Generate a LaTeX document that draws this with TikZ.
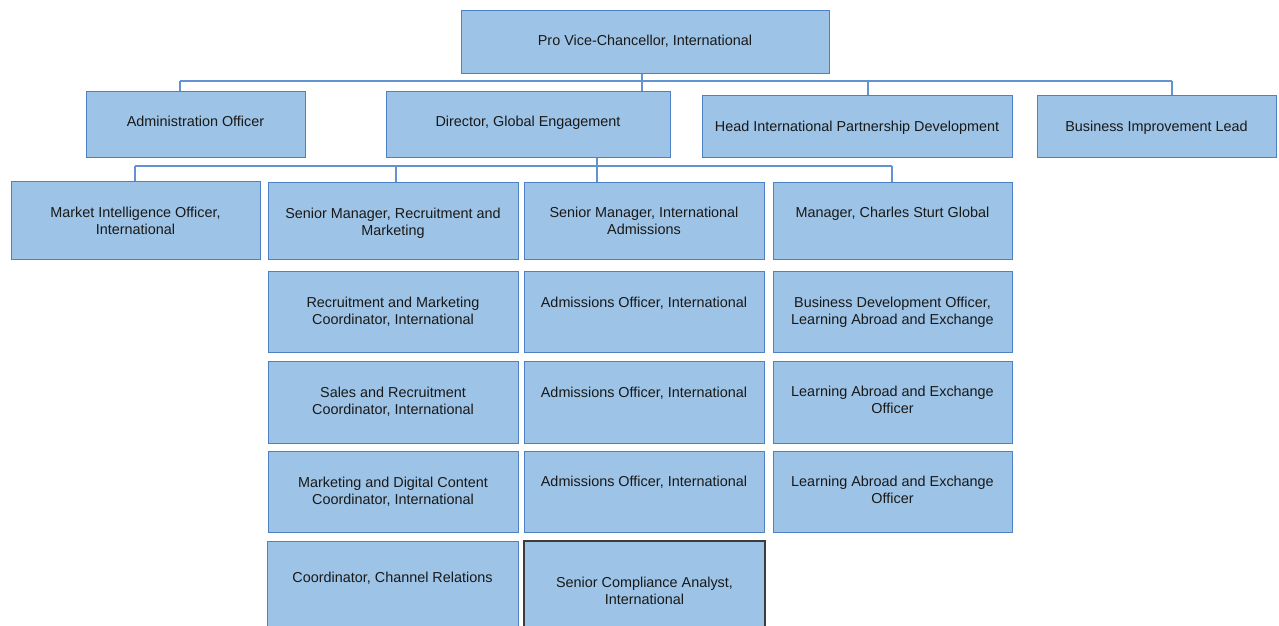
\documentclass[tikz,border=0pt]{standalone}
\usepackage{fontspec}
\setmainfont{Liberation Sans}
\definecolor{boxfill}{RGB}{157,195,230}
\definecolor{boxedge}{RGB}{78,128,196}
\definecolor{wire}{RGB}{100,145,208}
\definecolor{darkedge}{RGB}{60,60,60}
\definecolor{ink}{RGB}{25,25,25}
\begin{document}
\begin{tikzpicture}[x=1pt,y=-1pt,
  txtfont/.style={font=\fontsize{14.4}{17}\selectfont, text=ink},
  box/.style={draw=boxedge, fill=boxfill, line width=1pt, inner sep=0pt, txtfont},
  lbl/.style={txtfont, align=center, inner sep=0pt, anchor=north},
  conn/.style={draw=wire, line width=1.2pt}]
\clip (0,0) rectangle (1279,625);
\fill[white] (0,0) rectangle (1279,625);

% ---- top tier ----
\node[box, minimum width=368, minimum height=63] (pvc) at (645,41.5) {Pro Vice-Chancellor, International};
\node[box, minimum width=219, minimum height=66, text depth=6pt] (admin) at (195.5,124) {Administration Officer};
\node[box, minimum width=284, minimum height=66, text depth=6pt] (dir) at (528,124) {Director, Global Engagement};
\node[box, minimum width=310, minimum height=62, text height=13pt] (hipd) at (857,126) {Head International Partnership Development};
\node[box, minimum width=239, minimum height=62, text height=13pt] (bil) at (1156.5,126) {Business Improvement Lead};

% ---- second tier ----
\node[box, minimum width=249, minimum height=78] (mio) at (135.5,220) {};
\node[box, minimum width=250, minimum height=77] (smrm) at (393,220.5) {};
\node[box, minimum width=240, minimum height=77] (smia) at (644,220.5) {};
\node[box, minimum width=239, minimum height=77] (mcsg) at (892.5,220.5) {};

% ---- staff rows ----
\node[box, minimum width=250, minimum height=81] (rmc) at (393,311.5) {};
\node[box, minimum width=240, minimum height=81] (ao1) at (644,311.5) {};
\node[box, minimum width=239, minimum height=81] (bdo) at (892.5,311.5) {};

\node[box, minimum width=250, minimum height=82] (src) at (393,402) {};
\node[box, minimum width=240, minimum height=82] (ao2) at (644,402) {};
\node[box, minimum width=239, minimum height=82] (lae1) at (892.5,402) {};

\node[box, minimum width=250, minimum height=81] (mdc) at (393,491.5) {};
\node[box, minimum width=240, minimum height=81] (ao3) at (644,491.5) {};
\node[box, minimum width=239, minimum height=81] (lae2) at (892.5,491.5) {};

\node[box, minimum width=251, minimum height=100] (ccr) at (392.5,591) {};
\node[box, draw=darkedge, line width=1.3pt, minimum width=241, minimum height=100] (sca) at (644.5,591) {};

% ---- labels, set from the top of each box ----
\node[lbl] (mio-t)  at ([yshift=-26.5pt]mio.north)  {Market Intelligence Officer,\\International};
\node[lbl] (smrm-t) at ([yshift=-26pt]smrm.north)   {Senior Manager, Recruitment and\\Marketing};
\node[lbl] (smia-t) at ([yshift=-25pt]smia.north)   {Senior Manager, International\\Admissions};
\node[lbl] (mcsg-t) at ([yshift=-25pt]mcsg.north)   {Manager, Charles Sturt Global};

\node[lbl] (rmc-t)  at ([yshift=-26pt]rmc.north)    {Recruitment and Marketing\\Coordinator, International};
\node[lbl] (ao1-t)  at ([yshift=-26pt]ao1.north)    {Admissions Officer, International};
\node[lbl] (bdo-t)  at ([yshift=-26pt]bdo.north)    {Business Development Officer,\\Learning Abroad and Exchange};

\node[lbl] (src-t)  at ([yshift=-26pt]src.north)    {Sales and Recruitment\\Coordinator, International};
\node[lbl] (ao2-t)  at ([yshift=-26pt]ao2.north)    {Admissions Officer, International};
\node[lbl] (lae1-t) at ([yshift=-25.5pt]lae1.north) {Learning Abroad and Exchange\\Officer};

\node[lbl] (mdc-t)  at ([yshift=-26pt]mdc.north)    {Marketing and Digital Content\\Coordinator, International};
\node[lbl] (ao3-t)  at ([yshift=-25.5pt]ao3.north)  {Admissions Officer, International};
\node[lbl] (lae2-t) at ([yshift=-25.5pt]lae2.north) {Learning Abroad and Exchange\\Officer};

\node[lbl] (ccr-t)  at ([yshift=-31pt]ccr.north)    {Coordinator, Channel Relations};
\node[lbl] (sca-t)  at ([yshift=-37pt]sca.north)    {Senior Compliance Analyst,\\International};

% ---- connectors: Pro Vice-Chancellor to its direct reports ----
\coordinate (busA)  at (642,81);
\coordinate (busAL) at (180,81);
\coordinate (busAR) at (1172,81);
\coordinate (dropH) at (868,81);
\draw[conn] (busA |- pvc.south) -- (busA |- dir.north);
\draw[conn] (busAL) -- (busAR);
\draw[conn] (busAL) -- (busAL |- admin.north);
\draw[conn] (dropH) -- (dropH |- hipd.north);
\draw[conn] (busAR) -- (busAR |- bil.north);

% ---- connectors: Director to the managers ----
\coordinate (busB)  at (597,166);
\coordinate (busBL) at (135,166);
\coordinate (busBR) at (892,166);
\coordinate (dropR) at (396,166);
\draw[conn] (busB |- dir.south) -- (busB |- smia.north);
\draw[conn] (busBL) -- (busBR);
\draw[conn] (busBL) -- (busBL |- mio.north);
\draw[conn] (dropR) -- (dropR |- smrm.north);
\draw[conn] (busBR) -- (busBR |- mcsg.north);
\end{tikzpicture}
\end{document}
